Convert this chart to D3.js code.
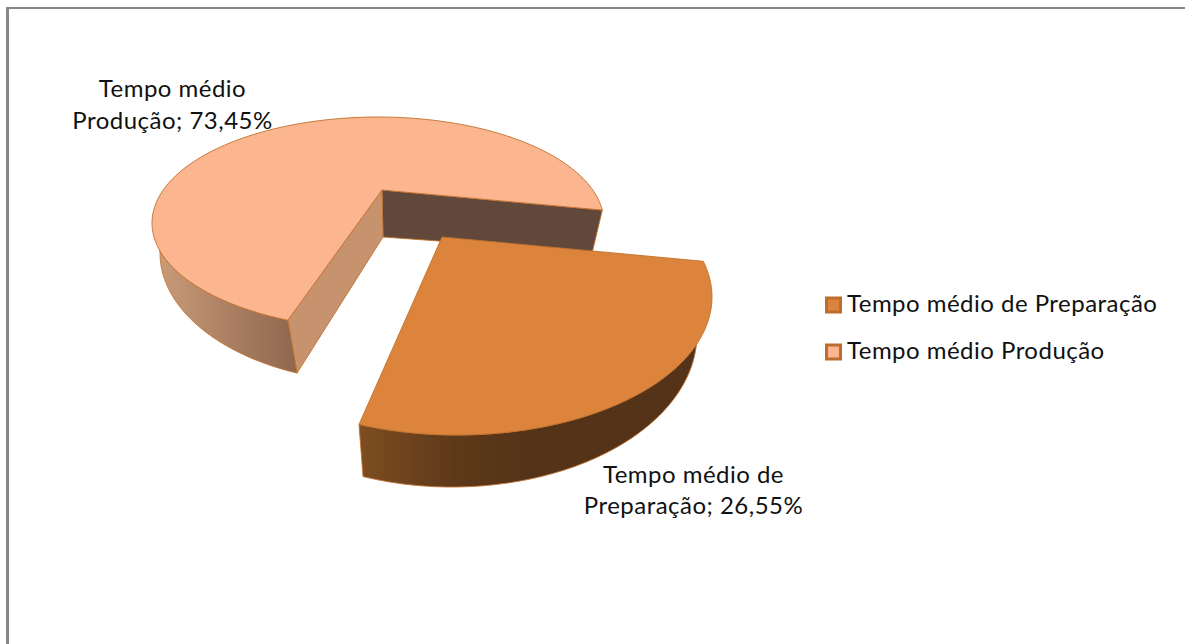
<!DOCTYPE html>
<html>
<head>
<meta charset="utf-8">
<script src="https://d3js.org/d3.v7.min.js"></script>
<style>
html,body{margin:0;padding:0;background:#fff;}
svg{display:block;}
text{font-family:Lato,"Open Sans",sans-serif;fill:#111;letter-spacing:0.48px;}
</style>
</head>
<body>
<svg id="c" width="1185" height="644"></svg>
<script>
// ---- data ----
const categories = ["Tempo médio de Preparação", "Tempo médio Produção"];
const values = [26.55, 73.45];
const topColors = ["#DC843B", "#FBB58F"];
const labelLines = [["Tempo médio de", "Preparação; 26,55%"], ["Tempo médio", "Produção; 73,45%"]];

// ---- layout ----
const rad = d => d * Math.PI / 180;
const W = 1185, H = 644;
const svg = d3.select("#c");
const edge = "#C0722F";

const slices = d3.pie().sort(null).value(d => d)(values);

const geo = [
  { // preparation (exploded, near)
    apex: [442, 237],
    top: {cx: 457, cy: 297, rx: 255, ry: 138},
    bot: {cx: 452, cy: 334, rx: 245, ry: 153},
    sweep: [-15, 112.6],
    wallTop: [20, 112.6], wallBot: [0, 111.3]
  },
  { // production (far)
    apex: [382, 190],
    apexBot: [383, 237],
    top: {cx: 378, cy: 223, rx: 226, ry: 106},
    bot: {cx: 382, cy: 253, rx: 222, ry: 130},
    sweep: [113.5, 353],
    wallTop: [165, 113.5], wallBot: [180, 112.5],
    rimEndDepth: [-10, 42]
  }
];

const onEllipse = (e, deg) => [e.cx + e.rx * Math.cos(rad(deg)), e.cy + e.ry * Math.sin(rad(deg))];
const line = d3.line();
const arcPts = (e, a, b, n = 120) => d3.range(n + 1).map(i => onEllipse(e, a + (b - a) * i / n));

// defs: gradients on the curved walls
const defs = svg.append("defs");
function grad(id, x1, x2, stops) {
  const g = defs.append("linearGradient").attr("id", id)
    .attr("gradientUnits", "userSpaceOnUse")
    .attr("x1", x1).attr("x2", x2).attr("y1", 0).attr("y2", 0);
  stops.forEach(s => g.append("stop").attr("offset", s[0]).attr("stop-color", s[1]));
}
grad("wallProd", 160, 297, [[0, "#C89A78"], [0.5, "#AB8063"], [1, "#8D674E"]]);
grad("wallPrep", 360, 530, [[0, "#7E4D21"], [0.55, "#5E3919"], [1, "#553318"]]);

// frame
svg.append("rect").attr("x", 6).attr("y", 7).attr("width", W - 6).attr("height", 2).attr("fill", "#868686");
svg.append("rect").attr("x", 6).attr("y", 7).attr("width", 3).attr("height", H - 7).attr("fill", "#868686");

const face = (pts, fill) => svg.append("path")
  .attr("d", line(pts) + "Z").attr("fill", fill)
  .attr("stroke", edge).attr("stroke-width", 0.9).attr("stroke-linejoin", "round");

function topFace(i) {
  const g = geo[i];
  const t = d3.scaleLinear().domain([slices[i].startAngle, slices[i].endAngle]).range(g.sweep);
  const n = 160;
  const pts = d3.range(n + 1).map(k => {
    const a = slices[i].startAngle + (slices[i].endAngle - slices[i].startAngle) * k / n;
    return onEllipse(g.top, t(a));
  });
  return [g.apex, ...pts];
}

// production slice: back wall, inner cut wall, outer wall, top
{
  const g = geo[1];
  const rimEnd = onEllipse(g.top, g.sweep[1]);
  const rimCut = onEllipse(g.top, g.sweep[0]);
  const botCut = onEllipse(g.bot, g.wallBot[1]);
  const rimEndBot = [rimEnd[0] + g.rimEndDepth[0], rimEnd[1] + g.rimEndDepth[1]];
  face([g.apex, rimEnd, rimEndBot, g.apexBot], "#62483A");
  face([g.apex, rimCut, botCut, g.apexBot], "#C7936F");
  face([...arcPts(g.top, g.wallTop[0], g.wallTop[1]), ...arcPts(g.bot, g.wallBot[1], g.wallBot[0])], "url(#wallProd)");
  face(topFace(1), topColors[1]);
}

// preparation slice: outer wall, top
{
  const g = geo[0];
  face([...arcPts(g.top, g.wallTop[0], g.wallTop[1]), ...arcPts(g.bot, g.wallBot[1], g.wallBot[0])], "url(#wallPrep)");
  face(topFace(0), topColors[0]);
}

// data labels
const labelPos = [{x: 693.5, y: [483, 514]}, {x: 172.5, y: [97, 129]}];
labelLines.forEach((lines, i) => {
  lines.forEach((s, j) => {
    svg.append("text").attr("x", labelPos[i].x).attr("y", labelPos[i].y[j])
      .attr("text-anchor", "middle").attr("font-size", 24).text(s);
  });
});

// legend
const legend = svg.selectAll("g.leg").data(categories).join("g").attr("class", "leg")
  .attr("transform", (d, i) => `translate(0,${[0, 47][i]})`);
legend.append("rect").attr("x", 826.5).attr("y", 298).attr("width", 14).attr("height", 14)
  .attr("fill", (d, i) => topColors[i]).attr("stroke", "#BB6E2E").attr("stroke-width", 3);
legend.append("text").attr("x", 847).attr("y", 312).attr("font-size", 24).text(d => d);
</script>
</body>
</html>
